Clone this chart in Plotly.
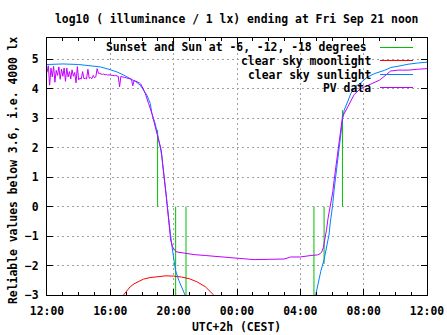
import plotly.graph_objects as go
import pandas as pd

# ---------------- data (hours after Thu Sep 20 12:00 local, log10 lux) ----------------
BASE = pd.Timestamp("2018-09-20 12:00")

green_hours = [6.985, 8.125, 8.78, 16.86, 17.50, 18.66]
green_tops = [2.6, -3.0, -3.0, -3.0, -1.95, 3.27]

moon_hours = [4.83, 5.0, 5.26, 5.5, 5.8, 6.1, 6.5, 7.0, 7.5, 8.0, 8.5, 9.0, 9.5, 10.0, 10.3, 10.53]
moon_vals = [-3.0, -2.88, -2.72, -2.62, -2.53, -2.46, -2.41, -2.37, -2.35, -2.36, -2.39, -2.45,
             -2.56, -2.72, -2.86, -3.0]

sun_hours = [0.0, 1.0, 2.0, 2.7, 3.36, 3.9, 4.41, 4.85, 5.26, 5.6, 5.89, 6.1, 6.31, 6.52,
             6.63, 6.84, 7.0, 7.16, 7.26, 7.37, 7.45, 7.52, 7.6, 7.68, 7.79, 7.9, 8.0, 8.11,
             8.32, 8.53, 8.72, None,
             16.97, 17.08, 17.18, 17.29, 17.5, 17.6, 17.71, 17.82, 17.88, 17.97, 18.03, 18.13,
             18.24, 18.35, 18.45, 18.56, 18.66, 18.77, 18.98, 19.2, 19.5, 19.82, 20.2, 20.67,
             21.3, 21.72, 22.36, 22.8, 23.4, 24.0]
sun_vals = [4.82, 4.84, 4.82, 4.79, 4.74, 4.66, 4.57, 4.46, 4.34, 4.24, 4.12, 3.97, 3.78, 3.5,
            3.15, 2.8, 2.45, 2.0, 1.68, 1.22, 0.85, 0.43, 0.0, -0.45, -0.9, -1.37, -1.82, -2.15,
            -2.5, -2.77, -3.0, None,
            -3.0, -2.72, -2.43, -2.2, -1.8, -1.5, -1.2, -0.93, -0.59, -0.25, 0.0, 0.55,
            1.0, 1.56, 2.0, 2.47, 2.93, 3.27, 3.55, 3.85, 4.08, 4.2, 4.38, 4.51,
            4.62, 4.72, 4.78, 4.83, 4.87, 4.9]

pv_hours = [0.0, 0.083, 0.167, 0.25, 0.333, 0.417, 0.5, 0.583, 0.667, 0.75, 0.833, 0.917,
            1.0, 1.083, 1.167, 1.25, 1.333, 1.417, 1.5, 1.583, 1.667, 1.75, 1.833, 1.917,
            2.0, 2.083, 2.167, 2.25, 2.333, 2.417, 2.5, 2.583, 2.667, 2.75, 2.833, 2.917,
            3.0, 3.083, 3.167, 3.25, 3.333, 3.417, 3.5, 3.583, 3.667, 3.75, 3.833, 3.917,
            4.0, 4.083, 4.167, 4.25, 4.333, 4.417, 4.5, 4.583, 4.667, 4.75, 4.833, 4.917,
            5.0, 5.083, 5.167, 5.25, 5.333, 5.417, 5.5, 5.583, 5.667, 5.75, 5.833, 5.917,
            6.0, 6.083, 6.167,
            6.21, 6.42, 6.63, 6.84, 7.05, 7.22, 7.3, 7.41, 7.47, 7.54, 7.6, 7.68, 7.73, 7.81,
            7.94, 8.06, 8.21, 8.53, 8.95, 9.3, 10.0, 10.75, 11.5, 12.22, 13.07, 14.0, 14.97,
            15.39, 16.0, 16.66, 17.08, 17.25, 17.35, 17.45, 17.55, 17.65, 17.75, 17.85, 17.95,
            18.05, 18.13, 18.24, 18.35, 18.45, 18.56, 18.66, 18.77, 18.98, 19.19, 19.4, 19.8,
            20.5, 21.0, 21.4, 21.7, 22.2, 22.8, 23.4, 24.0]
pv_vals = [4.55, 4.78, 4.12, 4.70, 4.40, 4.76, 4.22, 4.62, 4.45, 4.74, 4.32, 4.66,
           4.42, 4.70, 4.25, 4.70, 4.40, 4.58, 4.33, 4.64, 4.42, 4.55, 4.20, 4.75,
           4.30, 4.36, 4.33, 4.58, 4.34, 4.36, 4.33, 4.66, 4.35, 4.38, 4.34, 4.45,
           4.37, 4.40, 4.68, 4.52, 4.52, 4.49, 4.48, 4.50, 4.47, 4.48, 4.46, 4.47,
           4.47, 4.46, 4.45, 4.44, 4.45, 4.43, 4.42, 4.06, 4.42, 4.40, 4.40, 4.38,
           4.37, 4.36, 4.35, 4.33, 4.32, 4.10, 4.28, 4.26, 4.25, 4.22, 4.20, 4.16,
           4.08, 3.98, 3.90,
           3.83, 3.49, 3.15, 2.7, 2.3, 1.9, 1.45, 1.0, 0.66, 0.32, 0.0, -0.47, -0.8, -1.14,
           -1.37, -1.48, -1.54, -1.57, -1.6, -1.63, -1.66, -1.7, -1.74, -1.77, -1.8, -1.79, -1.78,
           -1.71, -1.71, -1.66, -1.64, -1.6, -1.54, -1.4, -1.14, -0.8, -0.4, -0.12, 0.15,
           0.5, 0.88, 1.33, 1.79, 2.24, 2.7, 3.04, 3.15, 3.38, 3.6, 3.8, 4.0,
           4.17, 4.29, 4.46, 4.6, 4.63, 4.63, 4.66, 4.68]

y_ticks = [-3, -2, -1, 0, 1, 2, 3, 4, 5]

legend_labels = ["Sunset and Sun at -6, -12, -18 degrees", "clear sky moonlight",
                 "clear sky sunlight", "PV data"]
title_text = "log10 ( illuminance / 1 lx) ending at Fri Sep 21 noon"
ylabel_text = "Reliable values below 3.6, i.e. 4000 lx"
xlabel_text = "UTC+2h (CEST)"

# ---------------- styling ----------------
GREEN, RED, BLUE, PURPLE = "#00c000", "#ff0000", "#0080ff", "#c000ff"
colors = [GREEN, RED, BLUE, PURPLE]
FONT = dict(family="DejaVu Sans Mono", size=11.4, color="black", weight="bold")


def to_time(hs):
    return [None if h is None else BASE + pd.Timedelta(hours=h) for h in hs]


gx, gy = [], []
for h, v in zip(green_hours, green_tops):
    gx += [h, h, None]
    gy += [0, v, None]

fig = go.Figure()
fig.add_trace(go.Scatter(x=to_time(gx), y=gy, mode="lines",
                         line=dict(color=GREEN, width=1), showlegend=False))
fig.add_trace(go.Scatter(x=to_time(moon_hours), y=moon_vals, mode="lines",
                         line=dict(color=RED, width=1), showlegend=False))
fig.add_trace(go.Scatter(x=to_time(sun_hours), y=sun_vals, mode="lines",
                         line=dict(color=BLUE, width=1), showlegend=False))
fig.add_trace(go.Scatter(x=to_time(pv_hours), y=pv_vals, mode="lines",
                         line=dict(color=PURPLE, width=1), showlegend=False))

W, H = 447, 335
L, R, T, B = 47, 20, 38, 40
PW, PH = W - L - R, H - T - B


def px(xp):
    return (xp - L) / PW


def py(yp):
    return (H - B - yp) / PH


grid = dict(showgrid=True, gridcolor="#a0a0a0", gridwidth=1, griddash="2px,3px")
fig.update_xaxes(type="date", range=[BASE, BASE + pd.Timedelta(hours=24)],
                 tickformat="%H:%M", dtick=4 * 3600000, tick0=BASE,
                 ticks="inside", ticklen=6, tickcolor="black", tickwidth=1,
                 showline=True, linecolor="black", linewidth=1, mirror="ticks",
                 zeroline=False, automargin=False, ticklabelstandoff=5,
                 tickfont=FONT,
                 minor=dict(dtick=3600000, ticks="inside", ticklen=3,
                            tickcolor="black", showgrid=False),
                 **grid)
fig.update_yaxes(range=[-3, 5.72], tickvals=y_ticks,
                 ticks="inside", ticklen=6, tickcolor="black", tickwidth=1,
                 showline=True, linecolor="black", linewidth=1, mirror="ticks",
                 zeroline=False, automargin=False, ticklabelstandoff=5,
                 tickfont=FONT, **grid)

shapes = [dict(type="rect", xref="paper", yref="paper", x0=px(98), x1=1, y0=py(93), y1=1,
               fillcolor="white", line=dict(width=0), layer="between")]
annotations = []
rows = [47.5, 60.5, 74.5, 87.5]
rights = [369, 373, 373, 373]
for lab, c, ry, rx in zip(legend_labels, colors, rows, rights):
    annotations.append(dict(text=lab, xref="paper", yref="paper", x=px(rx), y=py(ry),
                            xanchor="right", yanchor="middle", showarrow=False, font=FONT))
    shapes.append(dict(type="line", xref="paper", yref="paper", x0=px(380), x1=px(413),
                       y0=py(ry), y1=py(ry), line=dict(color=c, width=1)))

annotations.append(dict(text=title_text, xref="paper", yref="paper", x=px(236), y=py(19),
                        xanchor="center", yanchor="middle", showarrow=False, font=FONT))
annotations.append(dict(text=xlabel_text, xref="paper", yref="paper", x=px(236), y=py(327),
                        xanchor="center", yanchor="middle", showarrow=False, font=FONT))
annotations.append(dict(text=ylabel_text, xref="paper", yref="paper", x=px(13), y=py(170),
                        xanchor="center", yanchor="middle", textangle=-90,
                        showarrow=False, font=FONT))

fig.update_layout(width=W, height=H, margin=dict(l=L, r=R, t=T, b=B, autoexpand=False),
                  template="none", paper_bgcolor="white", plot_bgcolor="white",
                  font=FONT, shapes=shapes, annotations=annotations, showlegend=False)

fig.write_html("out.html")
